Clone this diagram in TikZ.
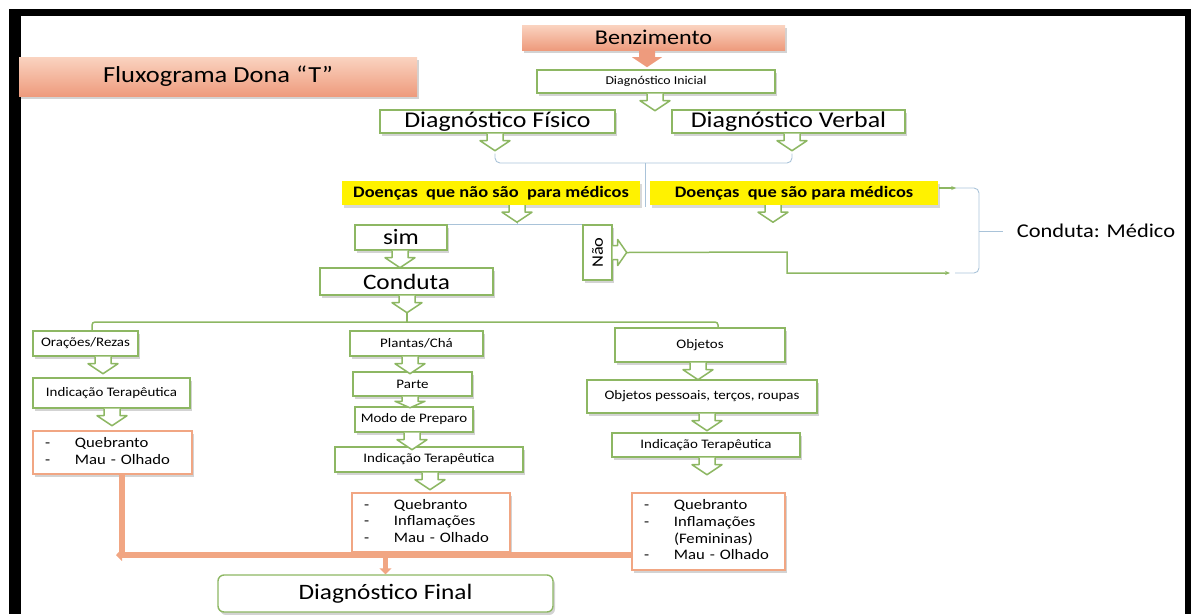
\documentclass[tikz,border=0pt]{standalone}
\usepackage{fontspec}
\setmainfont{Carlito}[FakeStretch=1.15]
\usetikzlibrary{arrows.meta,shadows,calc}
\tikzset{>=Stealth}

\definecolor{leafgreen}{HTML}{8DB763}
\definecolor{peachtop}{HTML}{FAD3C0}
\definecolor{peachbot}{HTML}{EE9B7D}
\definecolor{peachline}{HTML}{F1A683}
\definecolor{bracegray}{HTML}{A9C3D9}

\tikzset{
  fnt/.style={font=\fontsize{#1}{#1}\selectfont},
  sz/.style 2 args={minimum width=#1, minimum height=#2},
  gbox/.style={draw=leafgreen, line width=1.4pt, fill=white, inner sep=0pt,
    drop shadow={shadow xshift=2pt, shadow yshift=-3pt, opacity=.35}},
  pbox/.style={top color=peachtop, bottom color=peachbot, inner sep=0pt,
    drop shadow={shadow xshift=2pt, shadow yshift=-3pt, opacity=.35}},
  rbox/.style={draw=peachline, line width=1.3pt, fill=white, inner xsep=12pt, inner ysep=0pt,
    align=left, font=\fontsize{14.5}{16.7}\selectfont,
    drop shadow={shadow xshift=2pt, shadow yshift=-3pt, opacity=.35}},
  ybox/.style={fill=yellow, inner sep=0pt, font=\fontsize{16}{16}\selectfont\bfseries,
    drop shadow={shadow xshift=2pt, shadow yshift=-3pt, opacity=.3}},
  chev/.style={draw=leafgreen, fill=white, line width=1.5pt, line join=round},
  bline/.style={bracegray, line width=0.9pt, rounded corners=5pt},
  gline/.style={leafgreen, line width=1.5pt},
  pline/.style={peachline, line width=5.5pt},
}
% chevron below a box: [style] {point} {x offset}
\newcommand\chevdown[3][]{\draw[chev,#1] ($#2+(#3,0)$) ++(-8,0) -- ++(0,7) -- ++(-7,0) -- ++(15,10) -- ++(15,-10) -- ++(-7,0) -- ++(0,-7);}

\begin{document}
\begin{tikzpicture}[x=1pt,y=-1pt]
  \useasboundingbox (0,0) rectangle (1191,614);
  % frame
  \fill[black] (9,9) rectangle (21,614);
  \fill[black] (9,9) rectangle (1191,16);
  \fill[black] (1185,9) rectangle (1191,614);

  % top part
  \node[pbox, fnt=23, sz={398}{39}] (title) at (218,76.5) {Fluxograma Dona “T”};
  \node[pbox, fnt=21, sz={263}{25}] (benz) at (653.5,37.5) {Benzimento};
  \node[gbox, fnt=12, sz={238}{23}] (dini) at (656,81.5) {Diagnóstico Inicial};
  \node[gbox, fnt=22.5, sz={235}{23}] (dfis) at (497.5,121.5) {Diagnóstico Físico};
  \node[gbox, fnt=22.5, sz={233}{23}] (dver) at (788.5,121.5) {Diagnóstico Verbal};
  \node[ybox, sz={298}{24}] (yel1) at (491,193) {Doenças\ \ que não são\ \ para médicos};
  \node[ybox, sz={288}{24}] (yel2) at (794,193) {Doenças\ \ que são para médicos};
  \node[gbox, fnt=22, sz={92}{25}] (sim) at (401,237.5) {sim};
  \node[gbox, fnt=16, sz={29}{55}] (nao) at (597.5,252.5) {\rotatebox{90}{Não}};
  \node[gbox, fnt=22, sz={173}{27}] (cond) at (406.5,281.5) {Conduta};
  \node[fnt=19.5, inner sep=0pt] (medico) at (1096,231) {Conduta: Médico};

  % three branches
  \node[gbox, fnt=13, sz={105}{25}] (ora) at (85.5,343.5) {Orações/Rezas};
  \node[gbox, fnt=13, sz={157}{30}] (indL) at (111.5,393) {Indicação Terapêutica};
  \node[rbox, text width=135pt, minimum height=43] (qL) at (112.5,452.5)
    {\begin{tabular}{@{}p{30pt}@{}l@{}}-&Quebranto\\-&Mau - Olhado\end{tabular}};

  \node[gbox, fnt=13, sz={133}{25}] (pla) at (416.5,343.5) {Plantas/Chá};
  \node[gbox, fnt=13, sz={119}{24}] (parte) at (412.5,384) {Parte};
  \node[gbox, fnt=13, sz={118}{25}] (modo) at (414,419.5) {Modo de Preparo};
  \node[gbox, fnt=13, sz={188}{25}] (indM) at (429,459.5) {Indicação Terapêutica};
  \node[rbox, text width=134pt, minimum height=59] (qM) at (431,522.5)
    {\begin{tabular}{@{}p{30pt}@{}l@{}}-&Quebranto\\-&Inflamações\\-&Mau - Olhado\end{tabular}};

  \node[gbox, fnt=13, sz={170}{34}] (obj) at (700,345) {Objetos};
  \node[gbox, fnt=13, sz={230}{33}] (objp) at (702,396.5) {Objetos pessoais, terços, roupas};
  \node[gbox, fnt=13, sz={188}{24}] (indR) at (706,445) {Indicação Terapêutica};
  \node[rbox, text width=129pt, minimum height=77] (qR) at (708.5,531.5)
    {\begin{tabular}{@{}p{30pt}@{}l@{}}-&Quebranto\\-&Inflamações\\&(Femininas)\\-&Mau - Olhado\end{tabular}};

  \node[gbox, fnt=22, sz={335}{37}, rounded corners=6pt] (dfin) at (385.5,593.5) {Diagnóstico Final};

  % blue links
  \coordinate (split) at (645,163);
  \draw[bline] ($(dfis.south)+(-2.5,20)$) |- (split) -| ($(dver.south)+(3.5,20)$);
  \draw[bline] (split) -- (645,207);
  \draw[bline] ($(yel1.south)+(26,10)$) -- ($(yel1.south)+(26,20)$);
  \draw[bline, rounded corners=0pt] (sim.north east) -- (nao.north west);
  \draw[bline] (955,188) -| (979,231) |- (955,273);
  \draw[bline] (979,231) -- (1003,231);

  % green links
  \coordinate (hub) at (407,322);
  \draw[gline] ($(cond.south)+(0.5,16)$) -- (hub);
  \draw[gline, rounded corners=3pt] ($(ora.north)+(6.5,0)$) |- (hub) -| ($(obj.north)+(18,0)$);
  \draw[gline, -{Stealth[length=5pt,width=4pt]}] ($(nao.east)+(14,0)$) -- (787,252) -- (787,273) -- (950,273);
  \draw[gline, -{Stealth[length=5pt,width=4pt]}] ($(yel2.east)+(1,-5)$) -- ++(17,0);

  % peach links
  \coordinate (join) at (122,555);
  \draw[pline] ($(qL.south)+(9.5,0)$) -- (join);
  \draw[pline, -{Triangle[length=6pt,width=12pt]}] (qR.west |- join) -- ($(join)+(-6,0)$);
  \draw[pline, -{Triangle[length=6pt,width=12pt]}] (qM.south -| dfin.north) -- (dfin.north);

  % chevrons
  \chevdown[draw=none, fill=peachbot]{(benz.south)}{-6.5}
  \chevdown{(dini.south)}{-1}
  \chevdown{(dfis.south)}{-2.5}
  \chevdown{(dver.south)}{3.5}
  \chevdown{(yel1.south)}{26}
  \chevdown{(yel2.south)}{-21}
  \chevdown{(sim.south)}{-1}
  \chevdown{(cond.south)}{0.5}
  \chevdown{(ora.south)}{17.5}
  \chevdown{(indL.south)}{0.5}
  \chevdown{(pla.south)}{-6.5}
  \chevdown[yscale=.65]{(parte.south)}{-2.5}
  \chevdown{(modo.south)}{-2}
  \chevdown{(indM.south)}{1}
  \chevdown{(obj.south)}{-2}
  \chevdown{(objp.south)}{5}
  \chevdown{(indR.south)}{1}
  \draw[chev] ($(nao.east)+(0,-7)$) -- ++(5,0) -- ++(0,-6) -- ++(9,13) -- ++(-9,13) -- ++(0,-6) -- ++(-5,0);
\end{tikzpicture}
\end{document}
